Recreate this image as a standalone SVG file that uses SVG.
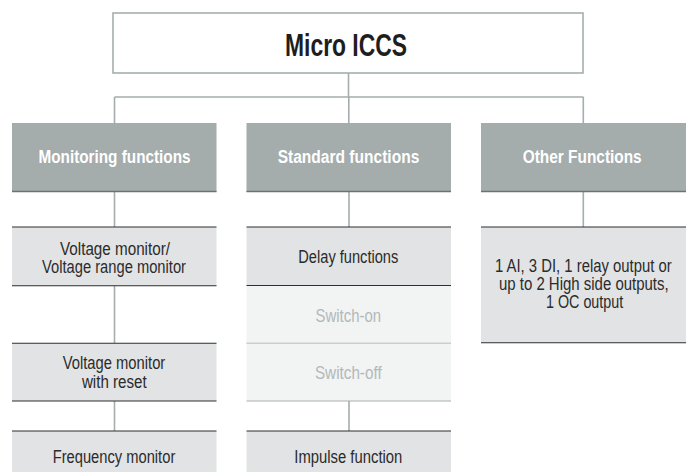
<svg xmlns="http://www.w3.org/2000/svg" width="687" height="472" viewBox="0 0 687 472">
<style>
.conn{stroke:#a5adad;stroke-width:1.6;fill:none}
.hdr{fill:#a4acac}
.hdrline{stroke:#6c7373;stroke-width:1.4}
.body{fill:#e1e3e4}
.bline{stroke:#2e2e2e;stroke-width:1.1}
.sw{fill:#f2f3f3}
.swline{stroke:#a9b0b0;stroke-width:1.1}
text{font-family:"Liberation Sans",Arial,sans-serif;text-anchor:middle}
.t{font-size:17.5px;fill:#2b2b2b}
.ts{font-size:17.5px;fill:#b3b9b9}
.th{font-size:17.5px;font-weight:bold;fill:#ffffff}
.tt{font-size:30.5px;font-weight:bold;fill:#1e1e1e}
</style>
<rect width="687" height="472" fill="#ffffff"/>
<g id="connectors">
<line class="conn" x1="348.5" y1="73" x2="348.5" y2="97"/>
<line class="conn" x1="114.5" y1="97" x2="583.5" y2="97"/>
<line class="conn" x1="114.5" y1="97" x2="114.5" y2="123"/>
<line class="conn" x1="348.8" y1="97" x2="348.8" y2="123"/>
<line class="conn" x1="583.3" y1="97" x2="583.3" y2="123"/>
<line class="conn" x1="114.5" y1="192" x2="114.5" y2="227"/>
<line class="conn" x1="349" y1="192" x2="349" y2="227"/>
<line class="conn" x1="583.3" y1="192" x2="583.3" y2="227"/>
<line class="conn" x1="114.5" y1="286" x2="114.5" y2="343"/>
<line class="conn" x1="114.5" y1="401" x2="114.5" y2="431"/>
<line class="conn" x1="349" y1="401" x2="349" y2="431"/>
</g>
<g id="root">
<rect x="113" y="13" width="470" height="60" fill="#ffffff" stroke="#a6aeae" stroke-width="1.6"/>
<text class="tt" x="346" y="55.5" textLength="122" lengthAdjust="spacingAndGlyphs">Micro ICCS</text>
</g>
<g id="hdr-monitoring">
<rect class="hdr" x="12" y="123" width="204.5" height="69"/>
<line class="hdrline" x1="12" y1="191.5" x2="216.5" y2="191.5"/>
<text class="th" x="114.5" y="163.3" textLength="152" lengthAdjust="spacingAndGlyphs">Monitoring functions</text>
</g>
<g id="hdr-standard">
<rect class="hdr" x="246.5" y="123" width="204.5" height="69"/>
<line class="hdrline" x1="246.5" y1="191.5" x2="451" y2="191.5"/>
<text class="th" x="348.5" y="163.3" textLength="141.6" lengthAdjust="spacingAndGlyphs">Standard functions</text>
</g>
<g id="hdr-other">
<rect class="hdr" x="481" y="123" width="205" height="69"/>
<line class="hdrline" x1="481" y1="191.5" x2="686" y2="191.5"/>
<text class="th" x="582.2" y="163.3" textLength="119" lengthAdjust="spacingAndGlyphs">Other Functions</text>
</g>
<g id="voltage-monitor">
<rect class="body" x="12" y="227" width="204.5" height="59"/>
<line class="bline" x1="12" y1="227" x2="216.5" y2="227"/>
<line class="bline" x1="12" y1="285.7" x2="216.5" y2="285.7"/>
<text class="t" x="115" y="254.7" textLength="110" lengthAdjust="spacingAndGlyphs">Voltage monitor/</text>
<text class="t" x="114" y="272.7" textLength="144" lengthAdjust="spacingAndGlyphs">Voltage range monitor</text>
</g>
<g id="voltage-reset">
<rect class="body" x="12" y="343.3" width="204.5" height="57.7"/>
<line class="bline" x1="12" y1="343.3" x2="216.5" y2="343.3"/>
<line class="bline" x1="12" y1="401" x2="216.5" y2="401"/>
<text class="t" x="114" y="369.3" textLength="102.6" lengthAdjust="spacingAndGlyphs">Voltage monitor</text>
<text class="t" x="114.3" y="388.3" textLength="64.7" lengthAdjust="spacingAndGlyphs">with reset</text>
</g>
<g id="frequency-monitor">
<rect class="body" x="12" y="431" width="204.5" height="41"/>
<line class="bline" x1="12" y1="431" x2="216.5" y2="431"/>
<text class="t" x="114" y="463.3" textLength="122.6" lengthAdjust="spacingAndGlyphs">Frequency monitor</text>
</g>
<g id="delay-functions">
<rect class="body" x="246.5" y="227" width="204.5" height="58.5"/>
<line class="bline" x1="246.5" y1="227" x2="451" y2="227"/>
<line class="bline" x1="246.5" y1="285.5" x2="451" y2="285.5"/>
<text class="t" x="348.3" y="263.3" textLength="100" lengthAdjust="spacingAndGlyphs">Delay functions</text>
</g>
<g id="switch-on">
<rect class="sw" x="246.5" y="286" width="204.5" height="57.3"/>
<line class="swline" x1="246.5" y1="343.3" x2="451" y2="343.3"/>
<text class="ts" x="348.3" y="321.7" textLength="65.5" lengthAdjust="spacingAndGlyphs">Switch-on</text>
</g>
<g id="switch-off">
<rect class="sw" x="246.5" y="343.8" width="204.5" height="57.2"/>
<line class="swline" x1="246.5" y1="401" x2="451" y2="401"/>
<text class="ts" x="348.3" y="379.3" textLength="66.7" lengthAdjust="spacingAndGlyphs">Switch-off</text>
</g>
<g id="impulse-function">
<rect class="body" x="246.5" y="431" width="204.5" height="41"/>
<line class="bline" x1="246.5" y1="431" x2="451" y2="431"/>
<text class="t" x="348.3" y="463.3" textLength="108" lengthAdjust="spacingAndGlyphs">Impulse function</text>
</g>
<g id="other-io">
<rect class="body" x="481" y="227" width="205" height="115.7"/>
<line class="bline" x1="481" y1="227" x2="686" y2="227"/>
<line class="bline" x1="481" y1="342.7" x2="686" y2="342.7"/>
<text class="t" x="583.3" y="271.7" textLength="176.7" lengthAdjust="spacingAndGlyphs">1 AI, 3 DI, 1 relay output or</text>
<text class="t" x="583.8" y="290" textLength="169.7" lengthAdjust="spacingAndGlyphs">up to 2 High side outputs,</text>
<text class="t" x="584.6" y="308.3" textLength="77.3" lengthAdjust="spacingAndGlyphs">1 OC output</text>
</g>
</svg>
